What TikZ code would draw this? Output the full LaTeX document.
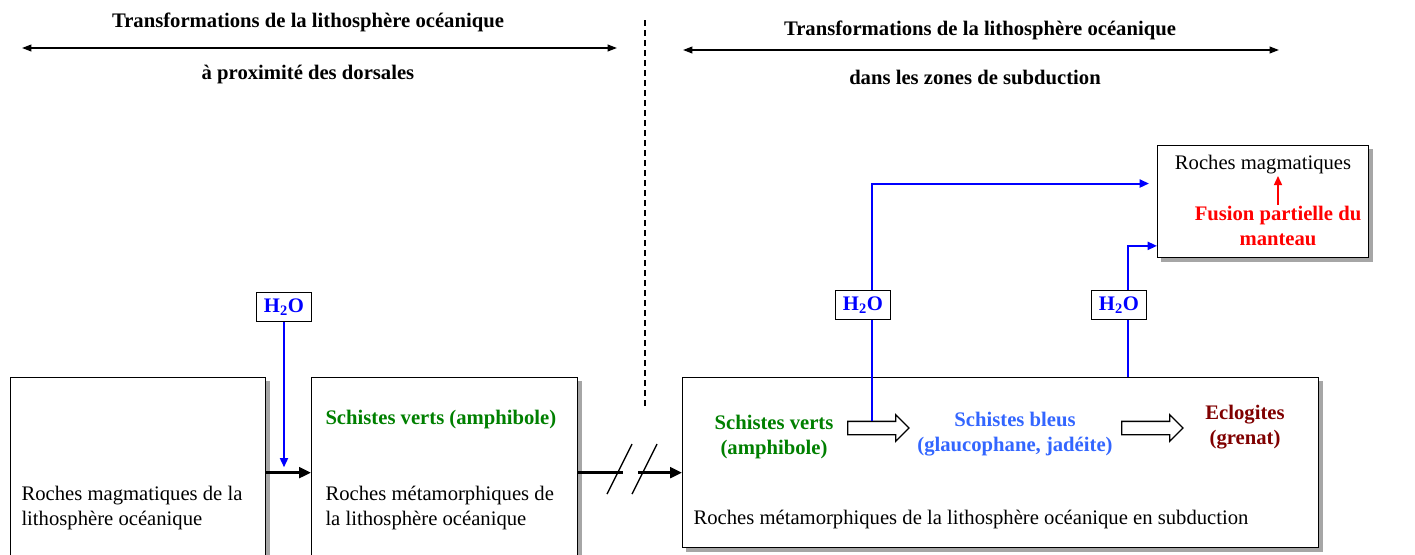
\documentclass[tikz,border=0pt]{standalone}
\usepackage{fontspec}
\setmainfont{Liberation Serif}
\usetikzlibrary{arrows.meta,shapes.arrows,calc}
\tikzset{every picture/.style={line width=0.75pt}}

\definecolor{vertschiste}{RGB}{0,128,0}
\definecolor{bleuschiste}{RGB}{51,102,255}
\definecolor{eclogite}{RGB}{128,0,0}
\definecolor{eau}{RGB}{0,0,255}

\tikzset{
  rockbox/.style={draw, line width=1pt, fill=white, anchor=north west, inner sep=0pt,
    preaction={draw=gray!70, fill=gray!70, transform canvas={xshift=3pt, yshift=-3pt}}},
  waterbox/.style={draw, line width=1pt, fill=white, text=eau, font=\fontsize{15.5}{18}\selectfont\bfseries,
    minimum width=41pt, minimum height=22pt, inner sep=0pt},
  flow/.style={line width=2.25pt, -{Triangle[length=9pt, width=8pt]}},
  water/.style={draw=eau, line width=1.5pt, -{Triangle[length=7pt, width=6pt]}},
  span/.style={line width=1.2pt, {Triangle[length=7pt, width=5pt]}-{Triangle[length=7pt, width=5pt]}},
  hollow/.style={single arrow, draw, line width=1pt, fill=white, inner sep=0pt,
    minimum height=46pt, single arrow head extend=5pt, text height=9pt, text depth=0pt, text width=0pt},
  txt/.style={inner sep=0.75pt, font=\fontsize{15.5}{18.75}\selectfont, align=left},
}

\begin{document}
\begin{tikzpicture}[x=0.75pt,y=0.75pt,yscale=-1,xscale=1]
\useasboundingbox (0,0) rectangle (1415,554);
\clip (0,0) rectangle (1415,554);

% Headers
\node[txt] (titleL) at (308,22) {\bfseries Transformations de la lithosphère océanique};
\node[txt] (subL) at (308,75) {\bfseries à proximité des dorsales};
\coordinate (spanLa) at (22,48);
\coordinate (spanLb) at (617,48);
\draw[span] (spanLa) -- (spanLb);

\node[txt] (titleR) at (980,30) {\bfseries Transformations de la lithosphère océanique};
\node[txt] (subR) at (975,77) {\bfseries dans les zones de subduction};
\coordinate (spanRa) at (683,50);
\coordinate (spanRb) at (1279,50);
\draw[span] (spanRa) -- (spanRb);

%Dashed separation
\coordinate (sepTop) at (645,20);
\coordinate (sepBot) at (645,408);
\draw[dash pattern=on 4.5pt off 3pt, line width=1pt] (sepTop) -- (sepBot);

%Shape: Rectangle (boxes)
\node[rockbox, minimum width=191.25pt, minimum height=142.5pt] (magL) at (10,377) {};
\node[rockbox, minimum width=199.5pt, minimum height=142.5pt] (metaL) at (311,377) {};
\node[rockbox, minimum width=477pt, minimum height=127.5pt] (metaR) at (682,377) {};
\node[rockbox, minimum width=158.25pt, minimum height=84pt] (magR) at (1157,145) {};

% Text Nodes in boxes
\node[txt, anchor=west] (magLtxt) at (20,508) {Roches magmatiques de la\\lithosphère océanique};
\node[txt, anchor=west, text=vertschiste] (svL) at (324,420) {\bfseries Schistes verts (amphibole)};
\node[txt, anchor=west] (metaLtxt) at (324,508) {Roches métamorphiques de\\la lithosphère océanique};

\node[txt, align=center, text=vertschiste] (svR) at (774,437) {\bfseries Schistes verts\\\bfseries (amphibole)};
\node[txt, align=center, text=bleuschiste] (sb) at (1015,434) {\bfseries Schistes bleus\\\bfseries (glaucophane, jadéite)};
\node[txt, align=center, text=eclogite] (ecl) at (1245,427) {\bfseries Eclogites\\\bfseries (grenat)};
\node[hollow] (hv1) at (875,428) {};
\node[hollow] (hv2) at (1149,428) {};
\node[txt, anchor=west] (metaRtxt) at (692,520) {Roches métamorphiques de la lithosphère océanique en subduction};

\node[txt] (magma) at (1263,165) {Roches magmatiques};
\node[txt, align=center, text=red] (fusion) at (1278,226) {\bfseries Fusion partielle du\\\bfseries manteau};
\draw[draw=red, line width=1.5pt, -{Triangle[length=7pt, width=6pt]}] (fusion.north) -- (fusion.north |- magma.south);

%Straight Lines (black flows)
\draw[flow] (magL.east) -- (metaL.west);
\coordinate (cutA) at ($(metaL.east)+(45,0)$);
\coordinate (cutB) at ($(metaL.east)+(60,0)$);
\draw[line width=2.25pt] (metaL.east) -- (cutA);
\draw[flow] (cutB) -- (cutB -| metaR.west);
\draw[line width=1pt] (607,494) -- (632,444);
\draw[line width=1pt] (632,494) -- (657,444);

%Water lines
\coordinate (w1) at (872,421);
\coordinate (w2) at (1128,377);
\draw[water, shorten >=6pt] (w1) |- ($(magR.north west)!0.34!(magR.south west)$);
\draw[water] (w2) |- ($(magR.north west)!0.89!(magR.south west)$);

\node[waterbox] (h2oA) at (284,307) {H\textsubscript{2}O};
\node[waterbox] (h2oB) at (863,305) {H\textsubscript{2}O};
\node[waterbox] (h2oC) at (1119,305) {H\textsubscript{2}O};
\draw[water, shorten >=4pt] (h2oA) -- (h2oA |- magL.east);

\end{tikzpicture}
\end{document}
